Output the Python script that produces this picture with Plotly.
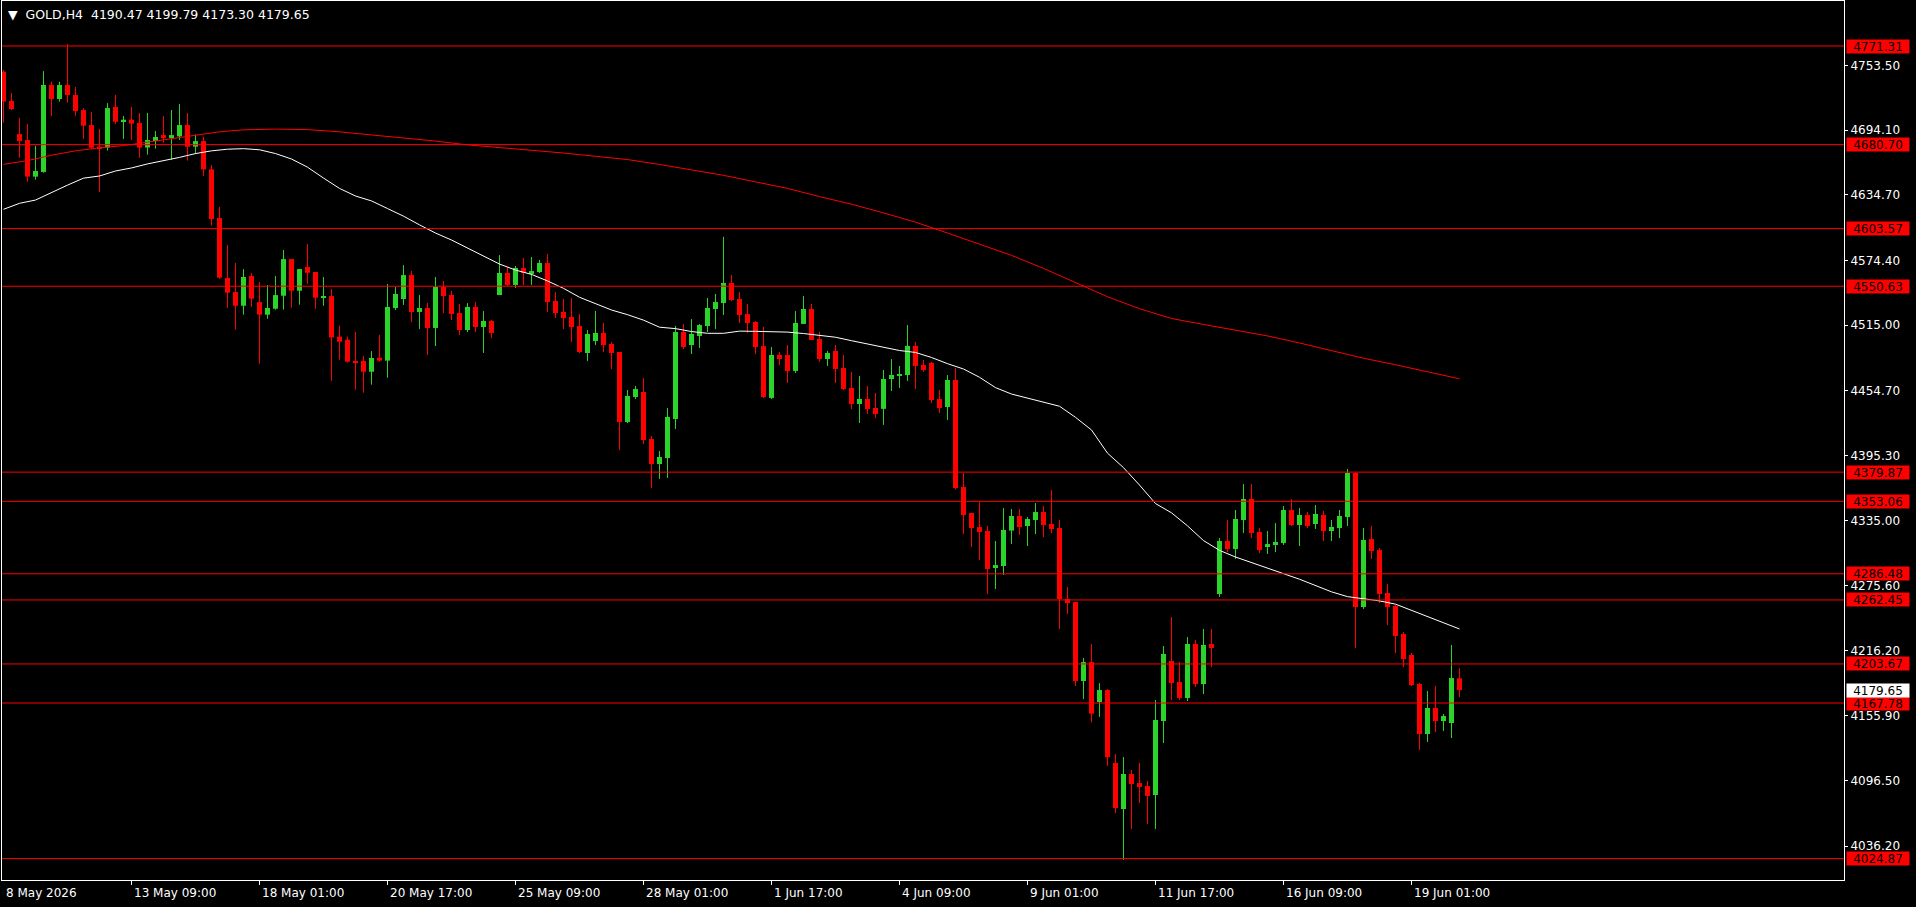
import plotly.graph_objects as go

# ---------------- data ----------------
symbol_title = "GOLD,H4"

opens = [4747.7, 4720.8, 4690.5, 4685.0, 4651.3, 4655.6, 4735.5, 4722.6, 4735.5, 4726.3,
         4712.5, 4698.7, 4678.8, 4677.9, 4715.3, 4701.8, 4703.6, 4700.6, 4678.0, 4684.0,
         4689.5, 4687.7, 4688.3, 4698.7, 4678.8, 4684.0, 4658.0, 4613.3, 4558.2, 4545.3,
         4532.7, 4560.0, 4536.1, 4524.5, 4530.0, 4541.9, 4575.6, 4546.5, 4568.3, 4563.7,
         4540.1, 4541.6, 4504.3, 4501.5, 4481.9, 4481.9, 4472.1, 4485.0, 4482.3, 4530.6,
         4538.9, 4560.9, 4527.0, 4530.6, 4512.3, 4549.9, 4542.6, 4526.0, 4510.4, 4531.6,
         4513.2, 4518.7, 4542.6, 4562.8, 4551.8, 4567.4, 4561.9, 4563.7, 4572.0, 4537.1,
         4527.0, 4522.4, 4514.1, 4489.3, 4500.3, 4507.7, 4497.6, 4490.2, 4425.9, 4448.9,
         4453.5, 4410.3, 4387.3, 4392.8, 4428.7, 4508.6, 4496.6, 4504.9, 4514.1, 4529.7,
         4535.2, 4553.6, 4538.9, 4525.1, 4517.8, 4495.7, 4448.0, 4487.5, 4487.5, 4472.8,
         4516.0, 4529.7, 4502.2, 4483.8, 4491.2, 4475.5, 4457.2, 4442.5, 4447.1, 4438.8,
         4438.0, 4465.4, 4468.2, 4469.1, 4495.8, 4478.3, 4480.1, 4447.0, 4439.7, 4464.5,
         4366.2, 4342.3, 4329.4, 4325.8, 4291.8, 4293.6, 4326.2, 4339.6, 4330.4, 4335.9,
         4343.2, 4332.2, 4328.5, 4263.3, 4260.5, 4188.0, 4205.4, 4168.7, 4179.7, 4112.7,
         4070.4, 4102.6, 4094.3, 4091.5, 4083.3, 4151.2, 4206.4, 4187.1, 4172.4, 4222.0,
         4185.2, 4222.0, 4267.9, 4316.6, 4309.2, 4335.9, 4355.2, 4324.9, 4312.0, 4312.9,
         4314.8, 4345.1, 4331.3, 4340.5, 4332.2, 4340.5, 4325.8, 4328.5, 4338.6, 4379.1,
         4256.0, 4318.4, 4308.3, 4268.8, 4256.9, 4231.2, 4211.9, 4185.2, 4139.3, 4163.2,
         4151.2, 4149.4, 4190.47]

highs = [4749.3, 4728.1, 4705.2, 4699.7, 4679.7, 4748.3, 4738.5, 4738.5, 4773.1, 4733.6,
         4714.3, 4710.7, 4695.1, 4718.9, 4726.3, 4707.0, 4715.3, 4709.8, 4709.8, 4693.2,
         4707.0, 4712.5, 4718.0, 4709.8, 4690.0, 4688.0, 4662.0, 4623.4, 4588.5, 4571.9,
         4566.4, 4562.7, 4554.5, 4551.7, 4560.0, 4583.9, 4575.6, 4566.4, 4589.4, 4563.7,
         4559.1, 4548.0, 4514.4, 4504.3, 4508.8, 4486.8, 4491.1, 4505.8, 4552.7, 4549.9,
         4570.1, 4564.6, 4542.6, 4535.2, 4559.1, 4555.4, 4546.3, 4534.3, 4535.2, 4536.1,
         4527.9, 4519.6, 4579.3, 4568.3, 4569.2, 4576.6, 4577.5, 4574.7, 4580.2, 4545.3,
         4538.9, 4539.8, 4525.1, 4510.4, 4527.9, 4516.9, 4499.4, 4490.2, 4455.3, 4459.0,
         4466.3, 4413.1, 4399.3, 4438.8, 4514.1, 4515.9, 4520.5, 4515.9, 4539.8, 4543.5,
         4596.0, 4560.9, 4545.3, 4534.3, 4518.7, 4513.2, 4494.8, 4490.2, 4496.7, 4527.9,
         4541.7, 4534.3, 4508.6, 4491.2, 4496.7, 4487.5, 4471.9, 4468.2, 4459.0, 4452.6,
         4473.7, 4483.8, 4477.4, 4515.0, 4499.4, 4482.9, 4481.0, 4455.3, 4469.1, 4475.5,
         4379.1, 4342.3, 4352.4, 4330.4, 4316.6, 4346.9, 4346.0, 4346.0, 4338.6, 4351.5,
         4348.7, 4363.4, 4335.9, 4274.3, 4260.5, 4209.1, 4222.0, 4186.1, 4180.6, 4120.9,
         4118.2, 4106.2, 4112.7, 4096.1, 4170.5, 4220.1, 4246.8, 4205.4, 4228.4, 4225.7,
         4235.8, 4235.8, 4319.3, 4335.9, 4345.1, 4369.0, 4369.0, 4328.5, 4325.8, 4333.1,
         4348.7, 4355.2, 4346.9, 4343.2, 4349.7, 4344.2, 4335.9, 4345.1, 4382.7, 4379.5,
         4328.5, 4330.4, 4310.2, 4277.1, 4257.8, 4233.0, 4213.7, 4186.2, 4178.8, 4183.4,
         4157.7, 4221.1, 4199.79]

lows = [4700.9, 4712.5, 4668.7, 4646.7, 4648.5, 4654.9, 4707.0, 4720.2, 4719.2, 4707.3,
        4685.9, 4676.4, 4637.2, 4675.2, 4699.7, 4685.9, 4685.0, 4668.7, 4671.5, 4677.0,
        4682.5, 4666.9, 4685.0, 4666.0, 4672.0, 4652.0, 4606.3, 4557.3, 4530.9, 4510.7,
        4524.5, 4531.8, 4479.5, 4520.8, 4529.1, 4529.1, 4531.0, 4533.7, 4552.9, 4530.0,
        4532.7, 4463.8, 4483.1, 4480.4, 4455.6, 4452.8, 4460.2, 4481.3, 4466.6, 4528.8,
        4533.4, 4517.8, 4511.3, 4487.5, 4495.7, 4526.0, 4519.6, 4505.8, 4508.6, 4508.6,
        4489.3, 4503.1, 4542.6, 4550.8, 4549.0, 4551.8, 4551.8, 4562.8, 4527.0, 4521.4,
        4511.3, 4499.4, 4489.3, 4481.9, 4496.6, 4490.2, 4474.6, 4400.2, 4425.0, 4447.0,
        4405.7, 4365.3, 4373.6, 4374.5, 4419.5, 4493.0, 4488.4, 4493.9, 4508.6, 4511.3,
        4524.2, 4537.0, 4516.9, 4507.7, 4488.4, 4448.0, 4447.1, 4478.3, 4461.8, 4471.0,
        4516.0, 4501.3, 4481.1, 4477.4, 4461.8, 4455.3, 4437.9, 4425.0, 4433.3, 4429.6,
        4423.2, 4454.4, 4457.2, 4463.6, 4456.3, 4471.9, 4443.4, 4434.2, 4427.7, 4364.0,
        4323.0, 4311.1, 4299.1, 4267.9, 4272.5, 4285.4, 4313.8, 4322.1, 4312.0, 4323.0,
        4320.3, 4323.9, 4235.8, 4249.5, 4183.4, 4171.4, 4150.0, 4155.0, 4110.0, 4066.7,
        4023.6, 4052.0, 4075.9, 4056.6, 4052.0, 4131.0, 4170.5, 4170.5, 4169.6, 4182.5,
        4176.0, 4200.8, 4265.2, 4306.5, 4300.1, 4323.9, 4319.3, 4305.6, 4304.7, 4306.5,
        4312.9, 4330.4, 4312.0, 4328.5, 4327.6, 4316.6, 4316.6, 4319.3, 4330.4, 4218.3,
        4254.1, 4300.1, 4259.6, 4239.4, 4213.7, 4200.8, 4183.4, 4124.6, 4132.0, 4141.1,
        4142.1, 4135.6, 4173.30]

closes = [4720.2, 4713.4, 4684.0, 4651.3, 4656.5, 4735.5, 4722.6, 4735.5, 4726.3, 4711.6,
          4698.1, 4677.9, 4677.6, 4714.3, 4701.8, 4703.6, 4700.0, 4678.0, 4685.0, 4687.7,
          4687.7, 4689.5, 4698.7, 4678.8, 4684.0, 4658.0, 4612.4, 4558.5, 4544.7, 4532.7,
          4559.1, 4539.2, 4524.5, 4530.6, 4542.5, 4575.6, 4546.5, 4566.4, 4563.0, 4540.1,
          4541.6, 4503.6, 4499.7, 4481.3, 4480.4, 4472.1, 4484.7, 4482.3, 4531.6, 4543.5,
          4560.9, 4527.0, 4530.6, 4512.3, 4549.9, 4541.7, 4525.1, 4510.4, 4531.6, 4513.2,
          4518.7, 4507.7, 4562.8, 4551.8, 4567.4, 4562.8, 4564.6, 4572.0, 4536.1, 4526.0,
          4521.4, 4513.2, 4490.2, 4506.8, 4507.7, 4496.6, 4489.3, 4425.9, 4449.8, 4456.2,
          4409.4, 4387.3, 4393.8, 4430.5, 4508.6, 4494.8, 4506.8, 4515.0, 4530.6, 4536.1,
          4553.6, 4538.0, 4524.2, 4516.9, 4494.8, 4448.9, 4487.5, 4483.8, 4472.8, 4516.9,
          4529.7, 4501.3, 4483.8, 4489.3, 4474.6, 4456.3, 4442.5, 4447.1, 4437.9, 4433.3,
          4465.4, 4469.1, 4470.0, 4495.8, 4477.4, 4473.7, 4446.1, 4438.8, 4464.5, 4365.3,
          4340.5, 4328.5, 4324.9, 4290.9, 4294.5, 4326.7, 4339.6, 4329.4, 4336.8, 4343.2,
          4331.3, 4327.6, 4263.3, 4259.6, 4188.0, 4205.4, 4158.0, 4179.7, 4118.0, 4071.3,
          4102.6, 4093.4, 4090.6, 4082.4, 4152.2, 4212.8, 4186.2, 4172.4, 4222.0, 4185.2,
          4221.1, 4218.3, 4316.6, 4309.2, 4336.8, 4355.2, 4323.9, 4308.3, 4313.8, 4315.7,
          4345.1, 4331.3, 4340.5, 4330.4, 4341.4, 4325.8, 4329.5, 4339.6, 4379.1, 4256.0,
          4317.5, 4307.4, 4267.9, 4256.0, 4229.3, 4208.2, 4184.3, 4139.3, 4163.2, 4151.2,
          4155.8, 4190.7, 4179.65]

# moving averages, read at every second bar
ma_bars = list(range(0, 183, 2))
ma_white = [4621.3, 4626.8, 4629.8, 4637.0, 4643.5, 4649.9, 4651.9, 4656.5, 4659.3, 4663.0,
            4665.7, 4669.0, 4672.5, 4675.0, 4676.5, 4677.0, 4676.0, 4672.5, 4667.5, 4660.0,
            4650.0, 4640.5, 4633.5, 4629.0, 4622.0, 4615.0, 4607.0, 4599.5, 4593.1, 4585.5,
            4578.5, 4571.0, 4565.5, 4561.5, 4555.5, 4548.7, 4540.5, 4534.9, 4528.8, 4524.5,
            4519.5, 4513.0, 4511.7, 4509.0, 4507.4, 4507.4, 4509.4, 4509.2, 4509.0, 4508.5,
            4507.2, 4505.8, 4503.8, 4500.6, 4497.8, 4494.8, 4491.6, 4489.8, 4485.2, 4479.5,
            4474.6, 4467.0, 4457.5, 4451.6, 4447.8, 4443.9, 4440.4, 4430.2, 4418.6, 4397.3,
            4384.0, 4368.0, 4351.0, 4342.5, 4330.5, 4317.0, 4308.0, 4301.9, 4297.0, 4291.4,
            4286.6, 4281.5, 4275.4, 4269.9, 4265.5, 4263.5, 4261.6, 4258.6, 4252.9, 4247.8,
            4241.8, 4235.8]

ma_red_bars = [0, 3, 6, 9, 12, 15, 18, 21, 24, 27, 30, 34, 38, 42, 46, 50, 54, 58, 62, 66,
               70, 74, 78, 82, 86, 90, 94, 98, 102, 106, 110, 114, 118, 122, 126, 130, 134,
               138, 142, 146, 150, 154, 158, 162, 166, 170, 174, 178, 182]
ma_red = [4662.6, 4666.0, 4671.0, 4675.0, 4677.8, 4679.8, 4683.0, 4686.3, 4689.5, 4692.5,
          4694.3, 4695.0, 4694.5, 4692.5, 4689.6, 4687.0, 4684.0, 4680.5, 4678.0, 4676.0,
          4673.0, 4670.0, 4667.0, 4662.5, 4657.5, 4652.5, 4646.5, 4640.5, 4633.0, 4626.0,
          4618.0, 4609.5, 4599.5, 4589.0, 4579.0, 4567.0, 4554.0, 4541.0, 4530.0, 4521.0,
          4515.5, 4510.0, 4505.0, 4498.5, 4491.5, 4484.5, 4478.5, 4472.0, 4465.6]

level_prices = [4771.31, 4680.70, 4603.57, 4550.63, 4379.87, 4353.06, 4286.48, 4262.45,
                4203.67, 4167.78, 4024.87]

price_ticks = [4753.50, 4694.10, 4634.70, 4574.40, 4515.00, 4454.70, 4395.30, 4335.00,
               4275.60, 4216.20, 4155.90, 4096.50, 4036.20]

date_tick_bars = [0, 16, 32, 48, 64, 80, 96, 112, 128, 144, 160, 176]
date_tick_labels = ["8 May 2026", "13 May 09:00", "18 May 01:00", "20 May 17:00",
                    "25 May 09:00", "28 May 01:00", "1 Jun 17:00", "4 Jun 09:00",
                    "9 Jun 01:00", "11 Jun 17:00", "16 Jun 09:00", "19 Jun 01:00"]

# ---------------- styling ----------------
GREEN = "#2ad42a"
RED = "#ff0000"
FONT = "DejaVu Sans"
W, H = 1916, 907
ML, MR, MT, MB = 2, 72, 1, 27
PLOT_W = W - ML - MR
PLOT_H = H - MT - MB
BAR_PX = 8.0
X0 = -1.5 / BAR_PX
X1 = X0 + PLOT_W / BAR_PX
Y_MAX = 4812.65
Y_MIN = 4005.20
MIN_BODY = 0.92

n = len(opens)
idx = list(range(n))
up = [i for i in idx if closes[i] >= opens[i]]
dn = [i for i in idx if closes[i] < opens[i]]


def bodies(ids, color):
    return go.Bar(
        x=ids,
        base=[min(opens[i], closes[i]) for i in ids],
        y=[max(abs(closes[i] - opens[i]), MIN_BODY) for i in ids],
        width=0.625,
        marker=dict(color=color, line=dict(width=0)),
        hoverinfo="skip",
    )


def wicks(ids, color):
    xs, ys = [], []
    for i in ids:
        xs += [i, i, None]
        ys += [lows[i], highs[i], None]
    return go.Scatter(x=xs, y=ys, mode="lines", line=dict(color=color, width=1),
                      hoverinfo="skip")


fig = go.Figure()
fig.add_trace(wicks(up, GREEN))
fig.add_trace(wicks(dn, RED))
fig.add_trace(bodies(up, GREEN))
fig.add_trace(bodies(dn, RED))
fig.add_trace(go.Scatter(x=ma_red_bars, y=ma_red, mode="lines",
                         line=dict(color=RED, width=1), hoverinfo="skip"))
fig.add_trace(go.Scatter(x=ma_bars, y=ma_white, mode="lines",
                         line=dict(color="white", width=1), hoverinfo="skip"))

shapes = []
annotations = []
for p in level_prices:
    shapes.append(dict(type="line", xref="paper", x0=0, x1=1, yref="y", y0=p, y1=p,
                       line=dict(color=RED, width=1), layer="above"))
    annotations.append(dict(xref="paper", x=1 + 2.0 / PLOT_W, yref="y", y=p,
                            text=f"{p:.2f}", showarrow=False, xanchor="left",
                            yanchor="middle", bgcolor=RED, width=62, height=13,
                            borderpad=0, font=dict(family=FONT, size=12, color="black")))

last = closes[-1]
annotations.append(dict(xref="paper", x=1 + 2.0 / PLOT_W, yref="y", y=last,
                        text=f"{last:.2f}", showarrow=False, xanchor="left",
                        yanchor="middle", bgcolor="white", width=62, height=13,
                        borderpad=0, font=dict(family=FONT, size=12, color="black")))

for b, lab in zip(date_tick_bars, date_tick_labels):
    annotations.append(dict(xref="x", x=b, yref="paper", y=-13.0 / PLOT_H, text=lab,
                            showarrow=False, xanchor="left", yanchor="middle",
                            font=dict(family=FONT, size=12, color="white")))

title_text = "\u25bc  " + symbol_title + "  " + " ".join(
    f"{v:.2f}" for v in (opens[-1], highs[-1], lows[-1], closes[-1]))
annotations.append(dict(xref="paper", x=4.0 / PLOT_W, yref="paper",
                        y=1 - 13.0 / PLOT_H, text=title_text, showarrow=False,
                        xanchor="left", yanchor="middle",
                        font=dict(family=FONT, size=12.5, color="white")))

fig.update_layout(
    width=W, height=H, margin=dict(l=ML, r=MR, t=MT, b=MB),
    paper_bgcolor="black", plot_bgcolor="black", showlegend=False,
    barmode="overlay", font=dict(family=FONT, size=12, color="white"),
    shapes=shapes, annotations=annotations,
    xaxis=dict(range=[X0, X1], showgrid=False, zeroline=False, showline=True,
               mirror=True, linecolor="white", linewidth=1, tickmode="array",
               tickvals=date_tick_bars[1:], ticks="outside", ticklen=4,
               tickcolor="white", showticklabels=False, fixedrange=True),
    yaxis=dict(side="right", range=[Y_MIN, Y_MAX], tickmode="array",
               tickvals=price_ticks, ticktext=[f"{v:.2f}" for v in price_ticks],
               ticks="outside", ticklen=3, tickcolor="white", showgrid=False,
               zeroline=False, showline=True, mirror=True, linecolor="white",
               linewidth=1, tickfont=dict(family=FONT, size=12, color="white"),
               fixedrange=True),
)

fig.write_html("out.html", config={"displayModeBar": False},
               post_script="document.body.style.margin='0';"
                           "document.body.style.overflow='hidden';"
                           "document.body.style.background='black';")
